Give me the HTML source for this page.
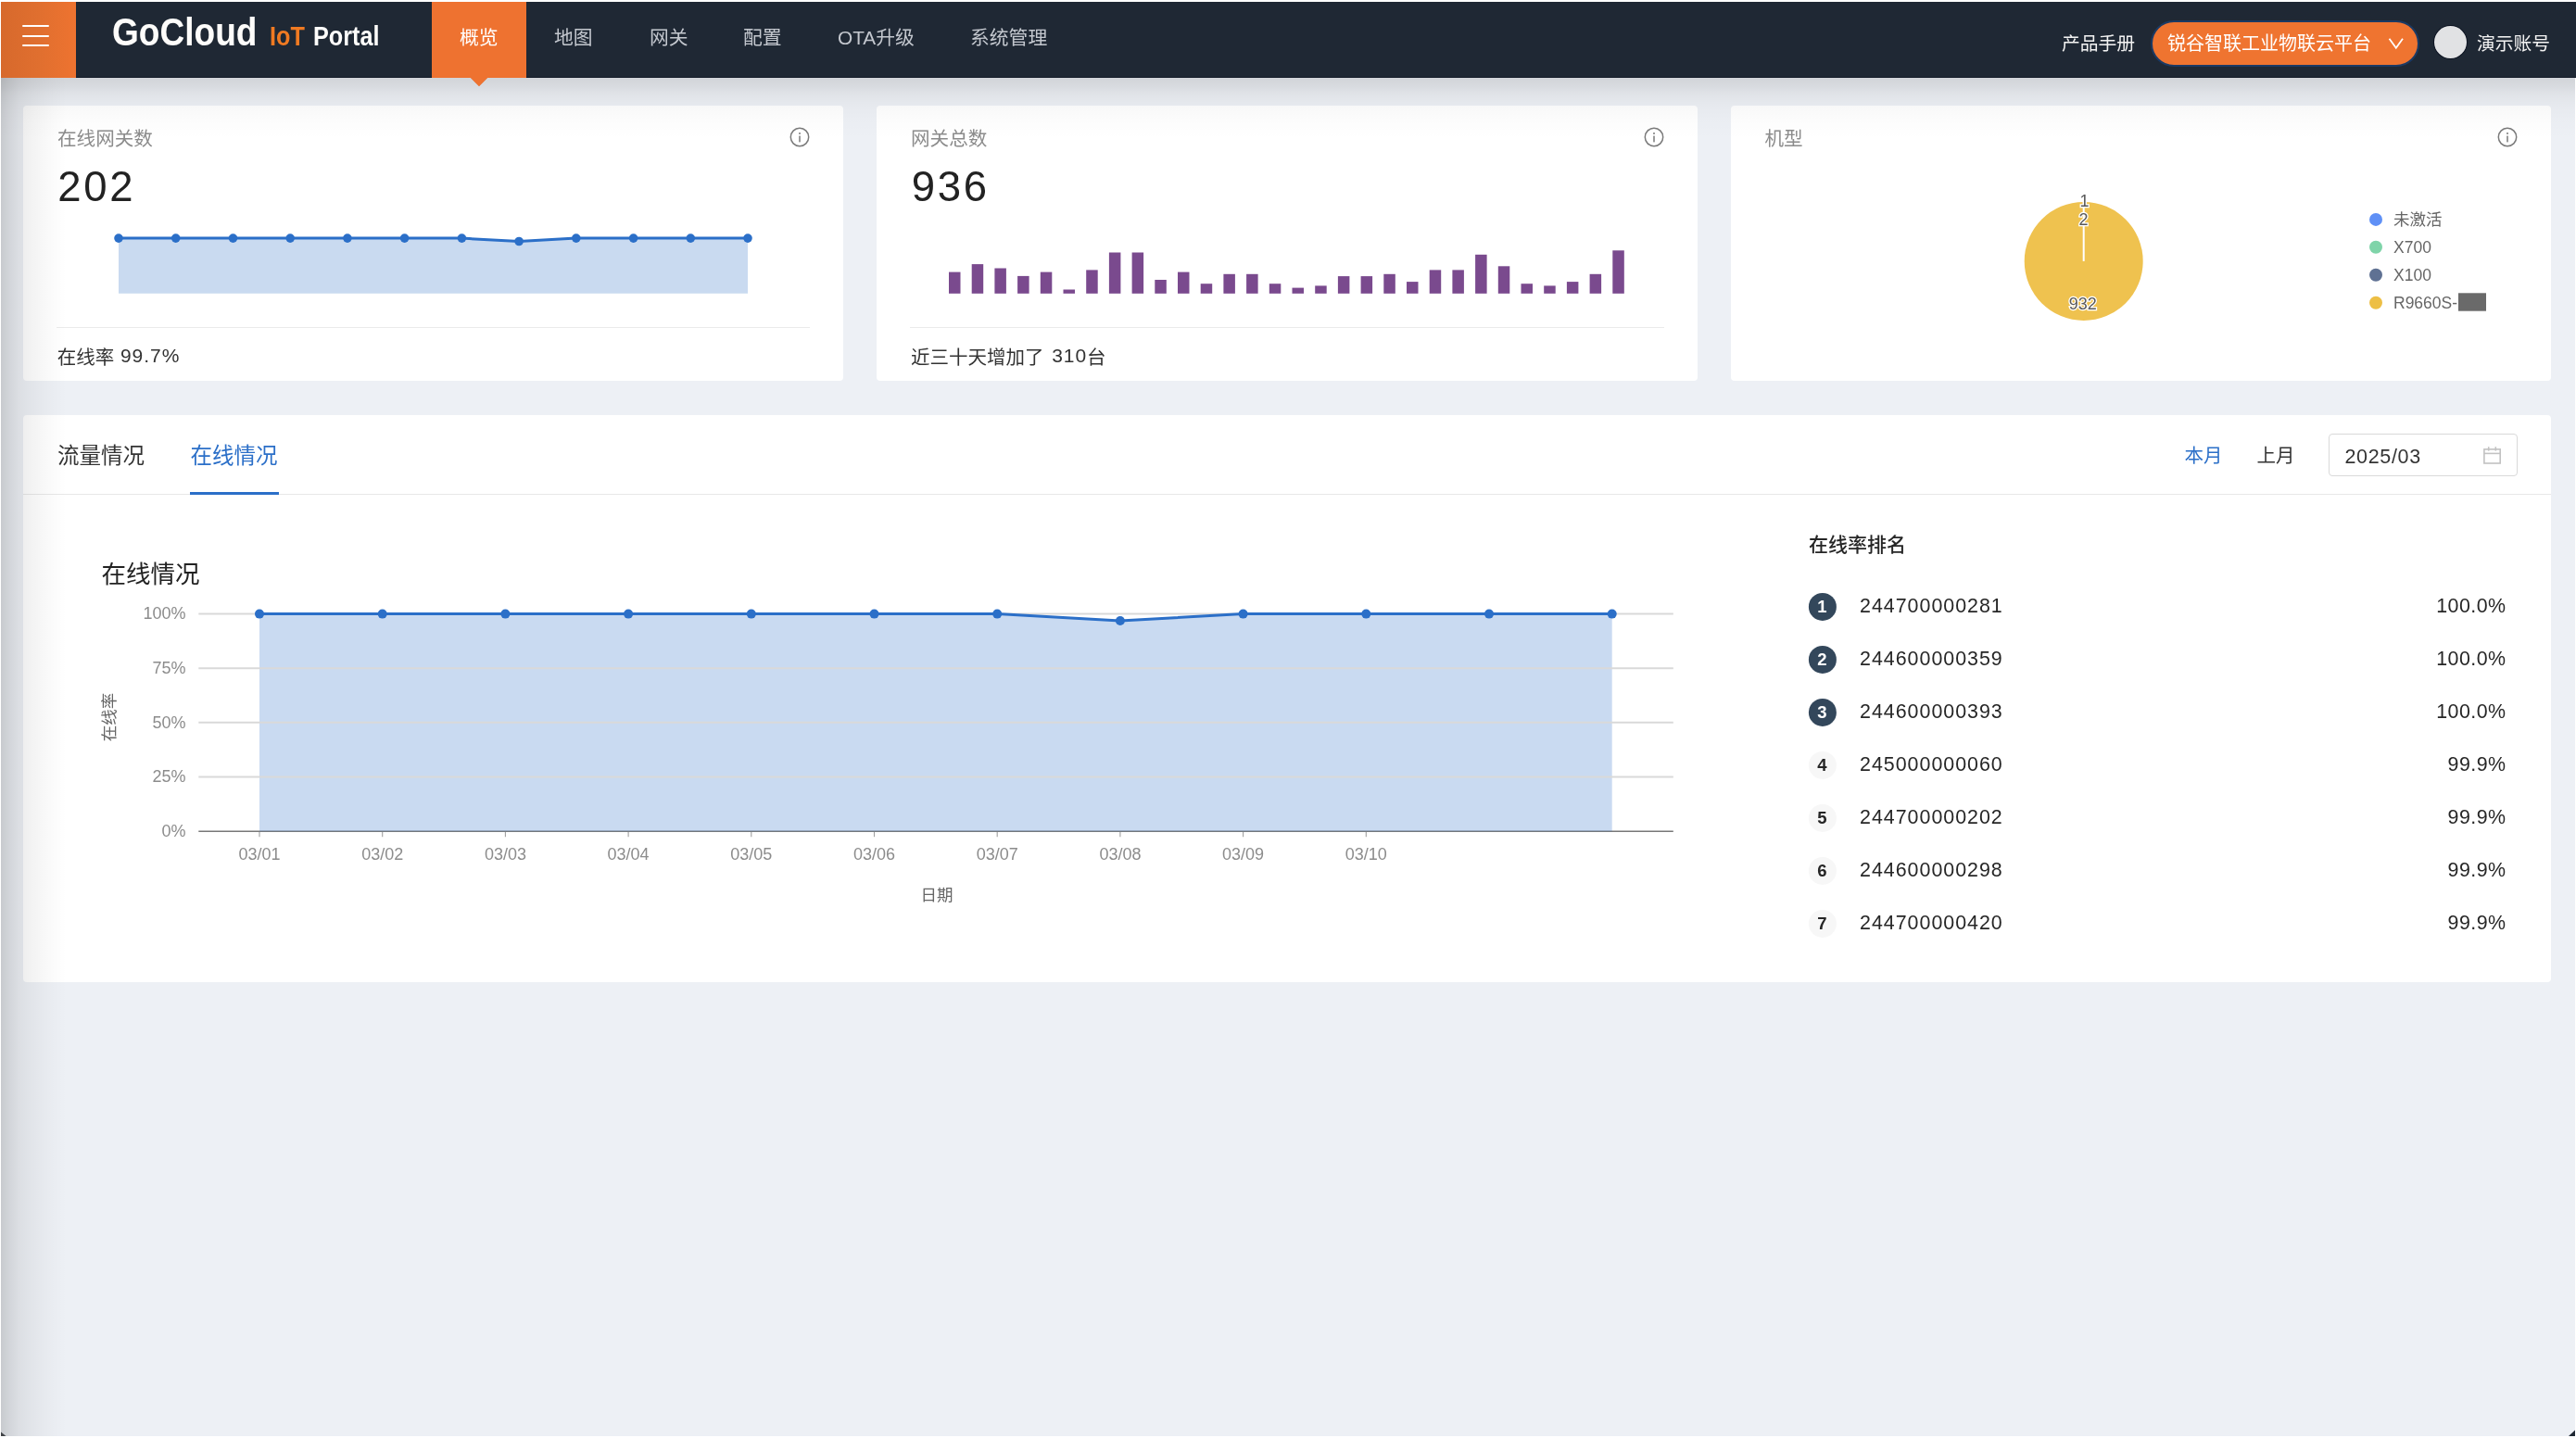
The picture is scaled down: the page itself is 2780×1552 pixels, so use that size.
<!DOCTYPE html>
<html lang="zh-CN">
<head>
<meta charset="utf-8">
<title>GoCloud IoT Portal</title>
<style>
*{box-sizing:border-box;margin:0;padding:0}
html,body{width:2780px;height:1552px;overflow:hidden;background:#fff}
body{position:relative;font-family:"Liberation Sans","Noto Sans CJK SC",sans-serif;color:#333}
.abs{position:absolute}
.t{position:absolute;white-space:nowrap;line-height:1}
#page{position:absolute;left:1px;top:2px;width:2778px;height:1548px;background:#edf0f5;overflow:hidden}
#hdr{position:absolute;left:1px;top:2px;width:2779px;height:82px;background:#1f2834}
#burger{position:absolute;left:1px;top:2px;width:81px;height:82px;background:linear-gradient(90deg,#d7692c 0%,#e06f2f 50%,#ee7330 100%)}
#burger i{position:absolute;left:23px;width:29px;height:2px;background:#fff;border-radius:1px}
.nav{color:#c3c7ce;font-size:20.8px;font-family:"Liberation Sans","Noto Sans CJK SC",sans-serif}
.card{position:absolute;background:#fff;border-radius:4px}
.ctitle{color:#8c8c8c;font-size:20.6px}
.cnum{color:#222;font-size:45.5px;letter-spacing:0.06em}
.lat{letter-spacing:0.045em;font-size:21px;position:relative;top:-1.5px}
.cfoot{color:#333;font-size:20.5px}
.sep{position:absolute;height:1px;background:#ebebeb}
</style>
</head>
<body>
<div id="root" style="position:absolute;left:0;top:0;width:2780px;height:1552px;will-change:transform">
<div id="page"></div>

<!-- HEADER -->
<div id="hdr"></div>
<div id="burger"><i style="top:25px"></i><i style="top:35.5px"></i><i style="top:46px"></i></div>
<div class="t" id="logo" style="left:121px;top:13.7px;font-family:'Liberation Sans',sans-serif;font-size:41.7px;font-weight:700;color:#fdfcfa;transform:scaleX(0.889);transform-origin:0 0">GoCloud</div>
<div class="t" style="left:291px;top:24.7px;font-family:'Liberation Sans',sans-serif;font-size:29px;font-weight:700;color:#f07a22;transform:scaleX(0.87);transform-origin:0 0">IoT</div>
<div class="t" style="left:338px;top:24.7px;font-family:'Liberation Sans',sans-serif;font-size:29px;font-weight:700;color:#fdfcfa;transform:scaleX(0.87);transform-origin:0 0">Portal</div>

<div class="abs" style="left:466px;top:2px;width:102px;height:82px;background:#ee7230"></div>
<div class="abs" style="left:508px;top:84px;width:0;height:0;border-left:9px solid transparent;border-right:9px solid transparent;border-top:9px solid #ee7230"></div>
<div class="t nav" style="left:496px;top:31px;color:#fff">概览</div>
<div class="t nav" style="left:598px;top:31px">地图</div>
<div class="t nav" style="left:701px;top:31px">网关</div>
<div class="t nav" style="left:802px;top:31px">配置</div>
<div class="t nav" style="left:904px;top:31px">OTA升级</div>
<div class="t nav" style="left:1047px;top:31px">系统管理</div>

<div class="t nav" style="left:2225px;top:38px;font-size:19.8px;color:#f2f2f2">产品手册</div>
<div class="abs" style="left:2320.5px;top:21.8px;width:290.7px;height:50.2px;border-radius:26px;background:#ef7430;border:2px solid #1b3a64"></div>
<div class="t nav" style="left:2339px;top:37px;font-size:20px;color:#fff">锐谷智联工业物联云平台</div>
<svg class="abs" style="left:2576px;top:40px" width="20" height="14" viewBox="0 0 20 14"><path d="M2.5 1.8 L9.8 11.8 L17 1.8" fill="none" stroke="#fff" stroke-width="1.8"/></svg>
<div class="abs" style="left:2626.5px;top:27.8px;width:35px;height:35px;border-radius:50%;background:#e1e2e4;box-shadow:0 0 0 1px #0b1220"></div>
<div class="t nav" style="left:2673px;top:37.5px;font-size:19.8px;color:#f2f2f2">演示账号</div>

<!-- CARDS -->
<div class="card" style="left:25px;top:114px;width:885px;height:297px"></div>
<div class="card" style="left:946px;top:114px;width:886px;height:297px"></div>
<div class="card" style="left:1868px;top:114px;width:885px;height:297px"></div>

<div class="t ctitle" style="left:62px;top:139.5px">在线网关数</div>
<div class="t cnum" style="left:62.3px;top:179px">202</div>
<div class="sep" style="left:61px;top:353px;width:813px"></div>
<div class="t cfoot" style="left:61.8px;top:374.5px">在线率 <span class="lat" style="margin-left:1px">99.7%</span></div>

<div class="t ctitle" style="left:983px;top:139.5px">网关总数</div>
<div class="t cnum" style="left:983.7px;top:179px">936</div>
<div class="sep" style="left:982px;top:353px;width:814px"></div>
<div class="t cfoot" style="left:983px;top:374.5px">近三十天增加了 <span class="lat" style="margin-left:3px">310</span>台</div>

<div class="t ctitle" style="left:1904.5px;top:139.5px">机型</div>

<svg class="abs" style="left:0;top:0" width="920" height="420" viewBox="0 0 920 420">
<polygon points="128.0,257.1 189.7,257.1 251.5,257.1 313.2,257.1 374.9,257.1 436.6,257.1 498.4,257.1 560.1,260.5 621.8,257.1 683.6,257.1 745.3,257.1 807.0,257.1 807.0,316.8 128,316.8" fill="#c9daf0"/>
<polyline points="128.0,257.1 189.7,257.1 251.5,257.1 313.2,257.1 374.9,257.1 436.6,257.1 498.4,257.1 560.1,260.5 621.8,257.1 683.6,257.1 745.3,257.1 807.0,257.1" fill="none" stroke="#2b6fc8" stroke-width="3" stroke-linejoin="round"/>
<g fill="#2b6fc8"><circle cx="128.0" cy="257.1" r="4.8"/><circle cx="189.7" cy="257.1" r="4.8"/><circle cx="251.5" cy="257.1" r="4.8"/><circle cx="313.2" cy="257.1" r="4.8"/><circle cx="374.9" cy="257.1" r="4.8"/><circle cx="436.6" cy="257.1" r="4.8"/><circle cx="498.4" cy="257.1" r="4.8"/><circle cx="560.1" cy="260.5" r="4.8"/><circle cx="621.8" cy="257.1" r="4.8"/><circle cx="683.6" cy="257.1" r="4.8"/><circle cx="745.3" cy="257.1" r="4.8"/><circle cx="807.0" cy="257.1" r="4.8"/></g>
</svg>
<svg class="abs" style="left:0;top:0" width="1850" height="420" viewBox="0 0 1850 420"><g fill="#7a4a8e"><rect x="1024.0" y="293.6" width="12.5" height="23.2"/><rect x="1048.7" y="285.1" width="12.5" height="31.7"/><rect x="1073.4" y="289.5" width="12.5" height="27.3"/><rect x="1098.1" y="297.9" width="12.5" height="18.9"/><rect x="1122.8" y="293.6" width="12.5" height="23.2"/><rect x="1147.5" y="312.5" width="12.5" height="4.3"/><rect x="1172.2" y="291.4" width="12.5" height="25.4"/><rect x="1196.9" y="272.5" width="12.5" height="44.3"/><rect x="1221.6" y="272.5" width="12.5" height="44.3"/><rect x="1246.3" y="302.0" width="12.5" height="14.8"/><rect x="1271.0" y="293.6" width="12.5" height="23.2"/><rect x="1295.7" y="306.2" width="12.5" height="10.6"/><rect x="1320.4" y="295.8" width="12.5" height="21.0"/><rect x="1345.1" y="295.8" width="12.5" height="21.0"/><rect x="1369.8" y="306.2" width="12.5" height="10.6"/><rect x="1394.5" y="310.6" width="12.5" height="6.2"/><rect x="1419.2" y="308.4" width="12.5" height="8.4"/><rect x="1443.9" y="298.1" width="12.5" height="18.7"/><rect x="1468.6" y="298.1" width="12.5" height="18.7"/><rect x="1493.3" y="295.8" width="12.5" height="21.0"/><rect x="1518.0" y="304.1" width="12.5" height="12.7"/><rect x="1542.7" y="291.4" width="12.5" height="25.4"/><rect x="1567.4" y="291.4" width="12.5" height="25.4"/><rect x="1592.1" y="274.8" width="12.5" height="42.0"/><rect x="1616.8" y="287.3" width="12.5" height="29.5"/><rect x="1641.5" y="306.2" width="12.5" height="10.6"/><rect x="1666.2" y="308.4" width="12.5" height="8.4"/><rect x="1690.9" y="304.1" width="12.5" height="12.7"/><rect x="1715.6" y="295.8" width="12.5" height="21.0"/><rect x="1740.3" y="270.3" width="12.5" height="46.5"/></g></svg>
<svg class="abs" style="left:851.0px;top:136.1px" width="24" height="24" viewBox="0 0 24 24"><circle cx="12" cy="12" r="9.7" fill="none" stroke="#7a7a7a" stroke-width="1.5"/><rect x="11.25" y="10.6" width="1.5" height="6.8" fill="#7a7a7a"/><circle cx="12" cy="7.9" r="1" fill="#7a7a7a"/></svg><svg class="abs" style="left:1772.9px;top:135.9px" width="24" height="24" viewBox="0 0 24 24"><circle cx="12" cy="12" r="9.7" fill="none" stroke="#7a7a7a" stroke-width="1.5"/><rect x="11.25" y="10.6" width="1.5" height="6.8" fill="#7a7a7a"/><circle cx="12" cy="7.9" r="1" fill="#7a7a7a"/></svg><svg class="abs" style="left:2693.8px;top:136.2px" width="24" height="24" viewBox="0 0 24 24"><circle cx="12" cy="12" r="9.7" fill="none" stroke="#7a7a7a" stroke-width="1.5"/><rect x="11.25" y="10.6" width="1.5" height="6.8" fill="#7a7a7a"/><circle cx="12" cy="7.9" r="1" fill="#7a7a7a"/></svg>
<svg class="abs" style="left:0;top:0" width="2780" height="420" viewBox="0 0 2780 420">
<circle cx="2248.7" cy="281.9" r="64" fill="#efc24f"/>
<line x1="2248.7" y1="281.9" x2="2248.7" y2="217" stroke="#fff" stroke-width="2"/>
<g font-family="Liberation Sans, sans-serif" font-size="18" fill="#595959" stroke="#fff" stroke-width="2.5" paint-order="stroke" text-anchor="middle">
<text x="2249.5" y="222.8">1</text>
<text x="2248.5" y="243.4">2</text>
<text x="2247.8" y="334">932</text>
</g>
<circle cx="2564" cy="236.9" r="7" fill="#5f90f6"/>
<circle cx="2564" cy="266.8" r="7" fill="#7fd4a9"/>
<circle cx="2564" cy="296.8" r="7" fill="#5f7193"/>
<circle cx="2564" cy="326.8" r="7" fill="#edbf45"/>
<g font-family="Liberation Sans, Noto Sans CJK SC, sans-serif" font-size="17.5" fill="#666">
<text x="2583" y="243.2">未激活</text>
<text x="2583" y="273">X700</text>
<text x="2583" y="303">X100</text>
<text x="2583" y="333">R9660S-</text>
</g>
<rect x="2653" y="316.3" width="30" height="19.4" fill="#6a6a6a"/>
</svg>
<!-- BIG CARD -->
<div class="card" style="left:25px;top:448px;width:2728px;height:612px"></div>

<!-- tabs -->
<div class="abs" style="left:25px;top:533px;width:2728px;height:1px;background:#e8e8e8"></div>
<div class="t" style="left:62px;top:480.5px;font-size:23.5px;color:#333">流量情况</div>
<div class="t" style="left:205.5px;top:480.5px;font-size:23.5px;color:#2b6fc8">在线情况</div>
<div class="abs" style="left:205px;top:531px;width:96px;height:3px;background:#2b6fc8"></div>
<div class="t" style="left:2357.5px;top:482px;font-size:20.5px;color:#2b6fc8">本月</div>
<div class="t" style="left:2435.5px;top:482px;font-size:20.5px;color:#333">上月</div>
<div class="abs" style="left:2513.4px;top:468.2px;width:203.4px;height:46.3px;border:1px solid #d9d9d9;border-radius:4px;background:#fff"></div>
<div class="t" style="left:2530.5px;top:482.5px;font-size:21.5px;color:#333;letter-spacing:0.03em">2025/03</div>
<svg class="abs" style="left:2678px;top:480px" width="24" height="24" viewBox="0 0 24 24"><g fill="none" stroke="#c2c2c2" stroke-width="1.6"><rect x="2.9" y="4.9" width="17.3" height="15.1"/><line x1="2.9" y1="9.4" x2="20.2" y2="9.4"/><line x1="7.7" y1="2.2" x2="7.7" y2="6.6"/><line x1="15.3" y1="2.2" x2="15.3" y2="6.6"/></g></svg>
<!-- chart -->
<div class="t" style="left:109.5px;top:607px;font-size:26.5px;color:#222">在线情况</div>
<svg class="abs" style="left:0;top:0" width="1900" height="1060" viewBox="0 0 1900 1060"><line x1="214.3" y1="897.2" x2="1805.8" y2="897.2" stroke="#787878" stroke-width="1.6"/><polygon points="280.0,662.6 412.7,662.6 545.4,662.6 678.1,662.6 810.8,662.6 943.5,662.6 1076.2,662.6 1208.9,670.0 1341.6,662.6 1474.3,662.6 1607.0,662.6 1739.7,662.6 1739.7,897.2 280.0,897.2" fill="rgb(43,111,200)" fill-opacity="0.255"/><line x1="214.3" y1="662.6" x2="1805.8" y2="662.6" stroke="#d9d9d9" stroke-width="2"/><line x1="214.3" y1="721.2" x2="1805.8" y2="721.2" stroke="#d9d9d9" stroke-width="2"/><line x1="214.3" y1="779.8" x2="1805.8" y2="779.8" stroke="#d9d9d9" stroke-width="2"/><line x1="214.3" y1="838.4" x2="1805.8" y2="838.4" stroke="#d9d9d9" stroke-width="2"/><line x1="280.0" y1="898.0" x2="280.0" y2="903.2" stroke="#a0a0a0" stroke-width="1.1"/><line x1="412.7" y1="898.0" x2="412.7" y2="903.2" stroke="#a0a0a0" stroke-width="1.1"/><line x1="545.4" y1="898.0" x2="545.4" y2="903.2" stroke="#a0a0a0" stroke-width="1.1"/><line x1="678.1" y1="898.0" x2="678.1" y2="903.2" stroke="#a0a0a0" stroke-width="1.1"/><line x1="810.8" y1="898.0" x2="810.8" y2="903.2" stroke="#a0a0a0" stroke-width="1.1"/><line x1="943.5" y1="898.0" x2="943.5" y2="903.2" stroke="#a0a0a0" stroke-width="1.1"/><line x1="1076.2" y1="898.0" x2="1076.2" y2="903.2" stroke="#a0a0a0" stroke-width="1.1"/><line x1="1208.9" y1="898.0" x2="1208.9" y2="903.2" stroke="#a0a0a0" stroke-width="1.1"/><line x1="1341.6" y1="898.0" x2="1341.6" y2="903.2" stroke="#a0a0a0" stroke-width="1.1"/><line x1="1474.3" y1="898.0" x2="1474.3" y2="903.2" stroke="#a0a0a0" stroke-width="1.1"/><polyline points="280.0,662.6 412.7,662.6 545.4,662.6 678.1,662.6 810.8,662.6 943.5,662.6 1076.2,662.6 1208.9,670.0 1341.6,662.6 1474.3,662.6 1607.0,662.6 1739.7,662.6" fill="none" stroke="#2b6fc8" stroke-width="3" stroke-linejoin="round"/><g fill="#2b6fc8"><circle cx="280.0" cy="662.6" r="5"/><circle cx="412.7" cy="662.6" r="5"/><circle cx="545.4" cy="662.6" r="5"/><circle cx="678.1" cy="662.6" r="5"/><circle cx="810.8" cy="662.6" r="5"/><circle cx="943.5" cy="662.6" r="5"/><circle cx="1076.2" cy="662.6" r="5"/><circle cx="1208.9" cy="670.0" r="5"/><circle cx="1341.6" cy="662.6" r="5"/><circle cx="1474.3" cy="662.6" r="5"/><circle cx="1607.0" cy="662.6" r="5"/><circle cx="1739.7" cy="662.6" r="5"/></g><g font-family="Liberation Sans, sans-serif" font-size="18" fill="#8c8c8c" text-anchor="end"><text x="200.5" y="668.4">100%</text><text x="200.5" y="727.0">75%</text><text x="200.5" y="785.6">50%</text><text x="200.5" y="844.2">25%</text><text x="200.5" y="903.0">0%</text></g><g font-family="Liberation Sans, sans-serif" font-size="18" fill="#8c8c8c" text-anchor="middle"><text x="280.0" y="927.6">03/01</text><text x="412.7" y="927.6">03/02</text><text x="545.4" y="927.6">03/03</text><text x="678.1" y="927.6">03/04</text><text x="810.8" y="927.6">03/05</text><text x="943.5" y="927.6">03/06</text><text x="1076.2" y="927.6">03/07</text><text x="1208.9" y="927.6">03/08</text><text x="1341.6" y="927.6">03/09</text><text x="1474.3" y="927.6">03/10</text></g><text x="1011" y="972.3" font-family="Liberation Sans, Noto Sans CJK SC, sans-serif" font-size="17.5" fill="#666" text-anchor="middle">日期</text><text transform="translate(123.6,774) rotate(-90)" x="0" y="0" font-family="Liberation Sans, Noto Sans CJK SC, sans-serif" font-size="17.5" fill="#666" text-anchor="middle">在线率</text></svg>
<div class="t" style="left:1952px;top:576.5px;font-size:21px;font-weight:500;color:#262626">在线率排名</div>
<svg class="abs" style="left:0;top:0" width="2780" height="1060" viewBox="0 0 2780 1060"><circle cx="1966.9" cy="654.9" r="15" fill="#33475b"/><text x="1966.4" y="661.3" font-family="Liberation Sans, sans-serif" font-size="18.5" font-weight="bold" fill="#fff" text-anchor="middle">1</text><text x="2007" y="661.3" font-family="Liberation Sans, sans-serif" font-size="21.4" fill="#262626" letter-spacing="1">244700000281</text><text x="2704.5" y="661.3" font-family="Liberation Sans, sans-serif" font-size="21.4" fill="#262626" letter-spacing="0.45" text-anchor="end">100.0%</text><circle cx="1966.9" cy="711.9" r="15" fill="#33475b"/><text x="1966.4" y="718.3" font-family="Liberation Sans, sans-serif" font-size="18.5" font-weight="bold" fill="#fff" text-anchor="middle">2</text><text x="2007" y="718.3" font-family="Liberation Sans, sans-serif" font-size="21.4" fill="#262626" letter-spacing="1">244600000359</text><text x="2704.5" y="718.3" font-family="Liberation Sans, sans-serif" font-size="21.4" fill="#262626" letter-spacing="0.45" text-anchor="end">100.0%</text><circle cx="1966.9" cy="768.9" r="15" fill="#33475b"/><text x="1966.4" y="775.3" font-family="Liberation Sans, sans-serif" font-size="18.5" font-weight="bold" fill="#fff" text-anchor="middle">3</text><text x="2007" y="775.3" font-family="Liberation Sans, sans-serif" font-size="21.4" fill="#262626" letter-spacing="1">244600000393</text><text x="2704.5" y="775.3" font-family="Liberation Sans, sans-serif" font-size="21.4" fill="#262626" letter-spacing="0.45" text-anchor="end">100.0%</text><circle cx="1966.9" cy="825.9" r="15" fill="#f7f7f7"/><text x="1966.4" y="832.3" font-family="Liberation Sans, sans-serif" font-size="18.5" font-weight="bold" fill="#262626" text-anchor="middle">4</text><text x="2007" y="832.3" font-family="Liberation Sans, sans-serif" font-size="21.4" fill="#262626" letter-spacing="1">245000000060</text><text x="2704.5" y="832.3" font-family="Liberation Sans, sans-serif" font-size="21.4" fill="#262626" letter-spacing="0.45" text-anchor="end">99.9%</text><circle cx="1966.9" cy="882.9" r="15" fill="#f7f7f7"/><text x="1966.4" y="889.3" font-family="Liberation Sans, sans-serif" font-size="18.5" font-weight="bold" fill="#262626" text-anchor="middle">5</text><text x="2007" y="889.3" font-family="Liberation Sans, sans-serif" font-size="21.4" fill="#262626" letter-spacing="1">244700000202</text><text x="2704.5" y="889.3" font-family="Liberation Sans, sans-serif" font-size="21.4" fill="#262626" letter-spacing="0.45" text-anchor="end">99.9%</text><circle cx="1966.9" cy="939.9" r="15" fill="#f7f7f7"/><text x="1966.4" y="946.3" font-family="Liberation Sans, sans-serif" font-size="18.5" font-weight="bold" fill="#262626" text-anchor="middle">6</text><text x="2007" y="946.3" font-family="Liberation Sans, sans-serif" font-size="21.4" fill="#262626" letter-spacing="1">244600000298</text><text x="2704.5" y="946.3" font-family="Liberation Sans, sans-serif" font-size="21.4" fill="#262626" letter-spacing="0.45" text-anchor="end">99.9%</text><circle cx="1966.9" cy="996.9" r="15" fill="#f7f7f7"/><text x="1966.4" y="1003.3" font-family="Liberation Sans, sans-serif" font-size="18.5" font-weight="bold" fill="#262626" text-anchor="middle">7</text><text x="2007" y="1003.3" font-family="Liberation Sans, sans-serif" font-size="21.4" fill="#262626" letter-spacing="1">244700000420</text><text x="2704.5" y="1003.3" font-family="Liberation Sans, sans-serif" font-size="21.4" fill="#262626" letter-spacing="0.45" text-anchor="end">99.9%</text></svg>
<svg class="abs" style="left:0;top:1540px" width="12" height="12" viewBox="0 0 12 12"><polygon points="1,5.5 1,10 6.5,10" fill="#4a4d52"/></svg>
<svg class="abs" style="left:2768px;top:1540px" width="12" height="12" viewBox="0 0 12 12"><polygon points="11,3.5 11,10 4,10" fill="#1f2733"/></svg>
<!-- shadows -->
<div class="abs" style="left:1px;top:84px;width:2778px;height:70px;pointer-events:none;background:linear-gradient(180deg,rgba(0,0,0,.115) 0px,rgba(0,0,0,.10) 5px,rgba(0,0,0,.085) 10px,rgba(0,0,0,.06) 16px,rgba(0,0,0,.035) 26px,rgba(0,0,0,.025) 34px,rgba(0,0,0,.013) 46px,rgba(0,0,0,0) 66px)"></div>
<div class="abs" style="left:1px;top:84px;width:72px;height:1466px;pointer-events:none;background:linear-gradient(90deg,rgba(0,0,0,.155) 0px,rgba(0,0,0,.113) 9px,rgba(0,0,0,.075) 19px,rgba(0,0,0,.054) 29px,rgba(0,0,0,.03) 44px,rgba(0,0,0,.01) 59px,rgba(0,0,0,0) 71px)"></div>
<div class="abs" style="left:82px;top:83px;width:384px;height:1px;background:#141c29"></div>
<div class="abs" style="left:568px;top:83px;width:2212px;height:1px;background:#141c29"></div>
<div class="abs" style="left:508px;top:84px;width:0;height:0;border-left:9px solid transparent;border-right:9px solid transparent;border-top:9px solid #ee7230"></div>
</div>
</body>
</html>
